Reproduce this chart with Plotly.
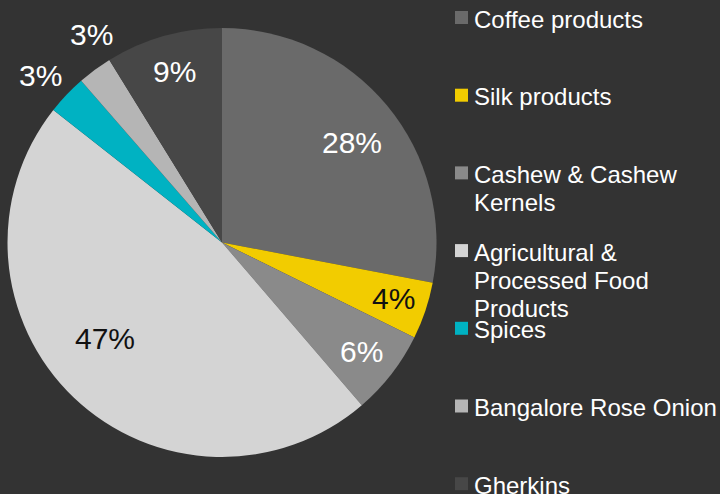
import math
import plotly.graph_objects as go

categories = ["Coffee products", "Silk products", "Cashew & Cashew<br>Kernels",
              "Agricultural &<br>Processed Food<br>Products", "Spices",
              "Bangalore Rose Onion", "Gherkins"]
shares = [28.0, 4.3, 6.4, 46.9, 3.0, 2.6, 8.8]

colors = ["#6a6a6a", "#f2cc00", "#8a8a8a", "#d4d4d4", "#00b2c2", "#b5b5b5", "#474747"]
text_colors = ["white", "#111111", "white", "#111111", "white", "white", "white"]
# label placement (radius as fraction of pie radius, angular nudge in degrees)
label_r = [0.766, 0.842, 0.825, 0.707, 1.150, 1.142, 0.83]
label_dtheta = [1.9, -0.6, 0.4, 6.8, -1.1, 4.3, 0.2]

W, H = 720, 494
CX, CY, R = 222.0, 242.5, 214.5  # pie centre / radius in px


def px_x(x):
    return x / W


def px_y(y):
    return 1 - y / H


fig = go.Figure(go.Pie(
    labels=[c.replace("<br>", " ") for c in categories],
    values=shares,
    sort=False,
    direction="clockwise",
    rotation=0,
    marker=dict(colors=colors, line=dict(width=0)),
    textinfo="none",
    domain=dict(x=[px_x(CX - R), px_x(CX + R)], y=[px_y(CY + R), px_y(CY - R)]),
    hoverinfo="label+percent",
    showlegend=False,
))

annotations = []
shapes = []
total = sum(shares)
cum = 0.0
for i, v in enumerate(shares):
    mid = (cum + v / 2) / total * 360 + label_dtheta[i]
    cum += v
    th = math.radians(mid)
    r = label_r[i] * R
    x = CX + r * math.sin(th)
    y = CY - r * math.cos(th)
    outside = label_r[i] > 1
    annotations.append(dict(
        x=px_x(x), y=px_y(y), xref="paper", yref="paper",
        text=f"{round(v / total * 100)}%", showarrow=False,
        xanchor="center", yanchor="middle",
        font=dict(size=30, color="white" if outside else text_colors[i],
                  family="Liberation Sans, Arial"),
    ))

# legend
LEG_TOP, LEG_STEP, LINE_STEP = 9.0, 77.7, 28.0
for i, cat in enumerate(categories):
    cap_top = LEG_TOP + i * LEG_STEP
    shapes.append(dict(
        type="rect", xref="paper", yref="paper",
        x0=px_x(455), x1=px_x(468), y0=px_y(cap_top + 2), y1=px_y(cap_top + 15),
        fillcolor=colors[i], line=dict(width=0), layer="above",
    ))
    for j, line in enumerate(cat.split("<br>")):
        annotations.append(dict(
            x=px_x(472), y=px_y(cap_top + j * LINE_STEP - 5.5),
            xref="paper", yref="paper", text=line, showarrow=False,
            xanchor="left", yanchor="top",
            font=dict(size=24, color="white", family="Liberation Sans, Arial"),
        ))

fig.update_layout(
    width=W, height=H,
    margin=dict(l=0, r=0, t=0, b=0),
    paper_bgcolor="#333333",
    plot_bgcolor="#333333",
    font=dict(family="Liberation Sans, Arial", color="white"),
    annotations=annotations,
    shapes=shapes,
    showlegend=False,
)

fig.write_html("out.html",
               config={"displayModeBar": False},
               post_script="document.body.style.margin='0';document.body.style.overflow='hidden';")
